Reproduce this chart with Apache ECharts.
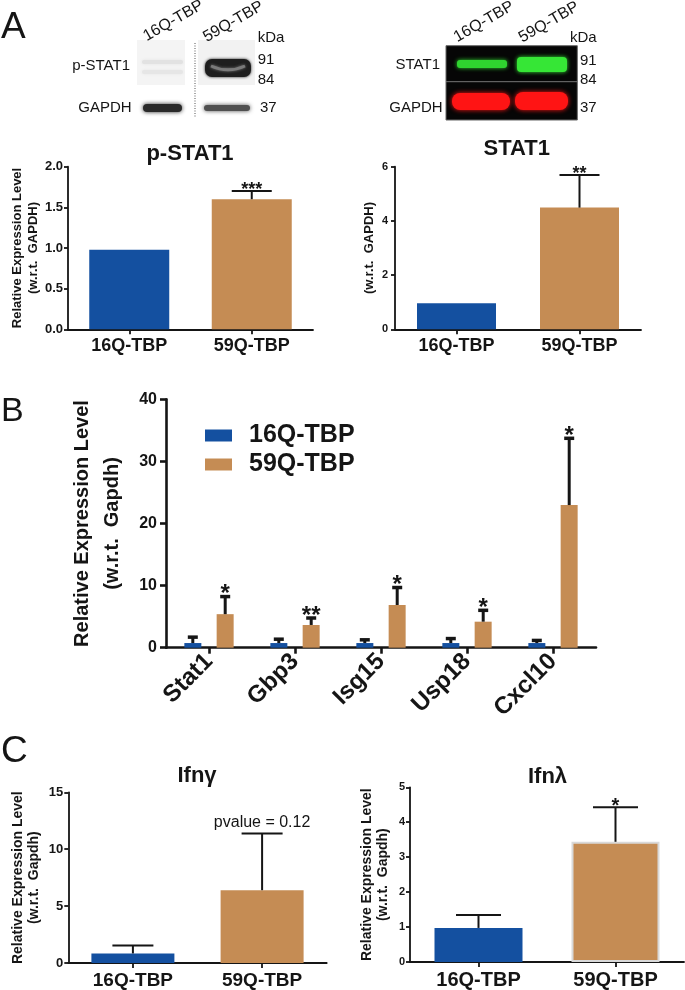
<!DOCTYPE html>
<html><head><meta charset="utf-8">
<script src="https://cdn.jsdelivr.net/npm/echarts@6/dist/echarts.min.js"></script>
<style>html,body{margin:0;padding:0;background:#fff}#c{width:685px;height:990px}</style>
</head><body><div id="c"></div>
<script>
// ---------- data ----------
const groups = ['16Q-TBP', '59Q-TBP'];
const pstat1Mean = [0.98, 1.60];
const pstat1Err = [0, 0.10];
const pstat1Sig = ['', '***'];
const pstat1Ticks = [0, 2.0, 0.5];     // min, max, interval
const stat1Mean = [0.96, 4.49];
const stat1Err = [0, 1.20];
const stat1Sig = ['', '**'];
const stat1Ticks = [0, 6, 2];
const genes = ['Stat1', 'Gbp3', 'Isg15', 'Usp18', 'Cxcl10'];
const q16Mean = [0.75, 0.75, 0.75, 0.75, 0.75];
const q16Err = [0.95, 0.62, 0.52, 0.72, 0.42];
const q59Mean = [5.4, 3.66, 6.88, 4.19, 22.97];
const q59Err = [2.83, 1.12, 2.81, 1.83, 10.75];
const geneSig = ['*', '**', '*', '*', '*'];
const geneTicks = [0, 40, 10];
const ifngMean = [0.84, 6.40];
const ifngErr = [0.70, 4.98];
const ifngNote = ['', 'pvalue = 0.12'];
const ifngTicks = [0, 15, 5];
const ifnlMean = [0.975, 3.44];
const ifnlErr = [0.37, 0.99];
const ifnlSig = ['', '*'];
const ifnlTicks = [0, 5, 1];

// ---------- style ----------
const FONT = '"Liberation Sans", Arial, Helvetica, sans-serif';
const BLUE = '#1450a0', TAN = '#c58c54', INK = '#151515';
const groupColors = [BLUE, TAN];

function yAxisCfg(gi, ticks, name, o) {
  return {
    type: 'value', gridIndex: gi, min: ticks[0], max: ticks[1], interval: ticks[2],
    name: name, nameLocation: 'middle', nameRotate: 90, nameGap: o.gap,
    nameTextStyle: {fontFamily: FONT, fontWeight: 'bold', fontSize: o.nameSize, lineHeight: o.nameLH, color: INK},
    axisLine: {show: true, lineStyle: {color: INK, width: o.lw}},
    axisTick: {show: true, length: o.tick, lineStyle: {color: INK, width: o.lw}},
    axisLabel: {fontFamily: FONT, fontWeight: 'bold', fontSize: o.labSize, color: INK, margin: o.margin,
      formatter: o.fmt || (v => String(v))},
    splitLine: {show: false}
  };
}
function xAxisCfg(gi, cats, o) {
  return {
    type: 'category', gridIndex: gi, data: cats,
    axisLine: {show: true, lineStyle: {color: INK, width: o.lw}},
    axisTick: {show: true, alignWithLabel: true, length: o.tick, lineStyle: {color: INK, width: o.lw}},
    axisLabel: {fontFamily: FONT, fontWeight: 'bold', fontSize: o.labSize, color: INK, margin: o.margin,
      rotate: o.rotate || 0, interval: 0}
  };
}
function barSeries(gi, name, means, width, colorFn, extra) {
  return Object.assign({
    type: 'bar', name: name, xAxisIndex: gi, yAxisIndex: gi, barWidth: width, z: 2,
    data: means.map((v, i) => ({value: v, itemStyle: {color: colorFn(i)}})),
    animation: false
  }, extra || {});
}
function errSeries(gi, means, errs, labels, o) {
  return {
    type: 'custom', xAxisIndex: gi, yAxisIndex: gi, z: 5, clip: false, animation: false,
    encode: {x: 0, y: 1},
    data: means.map((m, i) => [i, m, errs[i]]),
    renderItem: function (params, api) {
      const i = api.value(0), m = api.value(1), e = api.value(2);
      const base = api.coord([i, m]);
      const top = api.coord([i, m + e]);
      const x = base[0] + (o.offset || 0);
      const kids = [];
      if (e > 0) {
        kids.push({type: 'line', shape: {x1: x, y1: base[1], x2: x, y2: top[1]},
          style: {stroke: INK, lineWidth: o.lw}});
        kids.push({type: 'line', shape: {x1: x - o.cap / 2, y1: top[1], x2: x + o.cap / 2, y2: top[1]},
          style: {stroke: INK, lineWidth: o.capW}});
      }
      const lab = labels[params.dataIndex];
      if (lab) {
        kids.push({type: 'text', x: x, y: top[1] - o.labGap,
          style: {text: lab, fontFamily: FONT, fontWeight: o.labWeight || 'bold', fontSize: o.labSize,
            fill: INK, align: 'center', verticalAlign: 'middle'}});
      }
      return {type: 'group', children: kids};
    }
  };
}

// ---------- layout ----------
const grids = [
  {left: 68, top: 166.7, width: 245, height: 162.6},
  {left: 395, top: 166.7, width: 246, height: 162.6},
  {left: 166, top: 399.3, width: 430, height: 248.4},
  {left: 68.3, top: 792.3, width: 258.4, height: 171.7},
  {left: 410, top: 787.3, width: 274, height: 176}
];

const xAxes = [
  xAxisCfg(0, groups, {lw: 1.8, tick: 5, labSize: 18, margin: 8}),
  xAxisCfg(1, groups, {lw: 1.8, tick: 5, labSize: 18, margin: 8}),
  xAxisCfg(2, genes, {lw: 2.6, tick: 6, labSize: 24, margin: 10, rotate: 45}),
  xAxisCfg(3, groups, {lw: 1.8, tick: 5, labSize: 19, margin: 8}),
  xAxisCfg(4, groups, {lw: 1.8, tick: 5, labSize: 20, margin: 8})
];
const yAxes = [
  yAxisCfg(0, pstat1Ticks, 'Relative Expression Level\n(w.r.t.  GAPDH)',
    {gap: 26, nameSize: 13, nameLH: 16, lw: 1.8, tick: 4, labSize: 13, margin: 5, fmt: v => v.toFixed(1)}),
  yAxisCfg(1, stat1Ticks, '(w.r.t.  GAPDH)',
    {gap: 18, nameSize: 13, nameLH: 16, lw: 1.8, tick: 4, labSize: 11, margin: 7}),
  yAxisCfg(2, geneTicks, 'Relative Expression Level\n(w.r.t.  Gapdh)',
    {gap: 39, nameSize: 20, nameLH: 30, lw: 2.6, tick: 6, labSize: 16, margin: 9}),
  yAxisCfg(3, ifngTicks, 'Relative Expression Level\n(w.r.t.  Gapdh)',
    {gap: 26, nameSize: 14, nameLH: 16, lw: 1.8, tick: 4, labSize: 13, margin: 5}),
  yAxisCfg(4, ifnlTicks, 'Relative Expression Level\n(w.r.t.  Gapdh)',
    {gap: 19, nameSize: 14, nameLH: 16, lw: 1.8, tick: 4, labSize: 11, margin: 5})
];

const series = [
  barSeries(0, 'pSTAT1', pstat1Mean, 80, i => groupColors[i]),
  errSeries(0, pstat1Mean, pstat1Err, pstat1Sig, {lw: 2, cap: 40, capW: 2, labGap: 1, labSize: 18}),
  barSeries(1, 'STAT1', stat1Mean, 79, i => groupColors[i]),
  errSeries(1, stat1Mean, stat1Err, stat1Sig, {lw: 2, cap: 40, capW: 2, labGap: 1, labSize: 18}),
  barSeries(2, '16Q-TBP', q16Mean, 17, () => BLUE, {barGap: '90%', itemStyle: {color: BLUE}}),
  barSeries(2, '59Q-TBP', q59Mean, 17, () => TAN, {barGap: '90%', itemStyle: {color: TAN}}),
  errSeries(2, q16Mean, q16Err, ['', '', '', '', ''], {offset: -16.2, lw: 3, cap: 10, capW: 3.5, labGap: 2, labSize: 24}),
  errSeries(2, q59Mean, q59Err, geneSig, {offset: 16.2, lw: 3, cap: 10, capW: 3.5, labGap: 2, labSize: 24}),
  barSeries(3, 'Ifng', ifngMean, 83, i => groupColors[i]),
  errSeries(3, ifngMean, ifngErr, ifngNote, {lw: 2, cap: 41, capW: 2, labGap: 10.5, labSize: 16, labWeight: 'normal'}),
  barSeries(4, 'Ifnl', ifnlMean, 88, i => groupColors[i]),
  errSeries(4, ifnlMean, ifnlErr, ifnlSig, {lw: 2, cap: 45, capW: 2, labGap: 1, labSize: 20})
];
// light border on the 59Q Ifnλ bar
series[10].data[1].itemStyle.borderColor = '#d9d9d9';
series[10].data[1].itemStyle.borderWidth = 2;

// ---------- graphic (panel letters, titles, blots) ----------
function txt(x, y, s, size, o) {
  o = o || {};
  return {type: 'text', x: x, y: y, rotation: o.rot || 0, z: 10,
    style: {text: s, fontFamily: FONT, fontSize: size, fontWeight: o.weight || 'normal',
      fill: o.fill || INK, align: o.align || 'center', verticalAlign: 'middle'}};
}
function band(x, y, w, h, fill, blur, r) {
  return {type: 'rect', shape: {x: x, y: y, width: w, height: h, r: r || 3}, z: 3,
    style: {fill: fill, shadowBlur: blur, shadowColor: fill}};
}
const graphics = [
  txt(1, 28, 'A', 37, {align: 'left'}),
  txt(1, 412, 'B', 34, {align: 'left'}),
  txt(1, 752, 'C', 37, {align: 'left'}),
  txt(190, 154, 'p-STAT1', 22, {weight: 'bold'}),
  txt(516.7, 149, 'STAT1', 22, {weight: 'bold'}),
  txt(197, 775.5, 'Ifnγ', 22, {weight: 'bold'}),
  txt(547.5, 777, 'Ifnλ', 22, {weight: 'bold'}),
  // left blot (p-STAT1 / GAPDH)
  {type: 'rect', shape: {x: 137, y: 40, width: 48, height: 45}, z: 1, style: {fill: '#f4f4f4'}},
  {type: 'rect', shape: {x: 198, y: 40, width: 57, height: 45}, z: 1, style: {fill: '#f2f2f2'}},
  band(142, 60, 41, 4, '#e2e2e2', 3, 2),
  band(142, 70, 41, 4, '#e6e6e6', 3, 2),
  band(205, 59, 46, 18, '#1e1e1e', 3, 7),
  {type: 'bezierCurve', z: 4, shape: {x1: 211, y1: 66, cpx1: 222, cpy1: 71, x2: 245, y2: 66, cpx2: 234, cpy2: 71},
    style: {stroke: '#7a7a7a', lineWidth: 3, fill: null, shadowBlur: 3, shadowColor: '#7a7a7a'}},
  {type: 'line', z: 4, shape: {x1: 195, y1: 43, x2: 195, y2: 118},
    style: {stroke: '#555', lineWidth: 1, lineDash: [1, 1.5]}},
  band(143, 104, 39, 8, '#2a2a2a', 4, 4),
  band(204, 105, 46, 6, '#505050', 4, 3),
  txt(130, 66, 'p-STAT1', 15, {align: 'right'}),
  txt(131.7, 107.5, 'GAPDH', 15, {align: 'right'}),
  txt(257.7, 37.5, 'kDa', 15, {align: 'left'}),
  txt(257.7, 60, '91', 15, {align: 'left'}),
  txt(257.7, 79.5, '84', 15, {align: 'left'}),
  txt(260, 108, '37', 15, {align: 'left'}),
  txt(173.3, 20.7, '16Q-TBP', 16, {rot: Math.PI / 6}),
  txt(233.3, 21.7, '59Q-TBP', 16, {rot: Math.PI / 6}),
  // right blot (STAT1 / GAPDH, fluorescent)
  {type: 'rect', shape: {x: 446, y: 45.7, width: 131.3, height: 74.3}, z: 1,
    style: {fill: '#060606', stroke: '#666', lineWidth: 1}},
  {type: 'line', z: 2, shape: {x1: 446, y1: 81.7, x2: 577.3, y2: 81.7}, style: {stroke: '#777', lineWidth: 1}},
  band(457, 60, 50, 8, '#2fd42f', 4, 3),
  band(517, 57, 50, 15, '#36e636', 4, 4),
  band(452, 93, 58, 17, '#ff1414', 5, 8),
  band(515, 92, 53, 18, '#ff1414', 5, 8),
  txt(440, 65, 'STAT1', 15, {align: 'right'}),
  txt(442.7, 108, 'GAPDH', 15, {align: 'right'}),
  txt(570, 37.5, 'kDa', 15, {align: 'left'}),
  txt(580, 61, '91', 15, {align: 'left'}),
  txt(580, 80, '84', 15, {align: 'left'}),
  txt(580, 108, '37', 15, {align: 'left'}),
  txt(484, 21.7, '16Q-TBP', 16, {rot: Math.PI / 6}),
  txt(549, 22.3, '59Q-TBP', 16, {rot: Math.PI / 6})
];

const chart = echarts.init(document.getElementById('c'), null, {renderer: 'canvas'});
chart.setOption({
  animation: false,
  backgroundColor: '#fff',
  grid: grids,
  xAxis: xAxes,
  yAxis: yAxes,
  legend: {
    data: ['16Q-TBP', '59Q-TBP'], orient: 'vertical', left: 200, top: 418,
    itemWidth: 27, itemHeight: 12, itemGap: 4, icon: 'rect', selectedMode: false,
    textStyle: {fontFamily: FONT, fontWeight: 'bold', fontSize: 25, lineHeight: 24, color: INK, padding: [0, 0, 0, 12]}
  },
  series: series,
  graphic: graphics
});
</script>
</body></html>
